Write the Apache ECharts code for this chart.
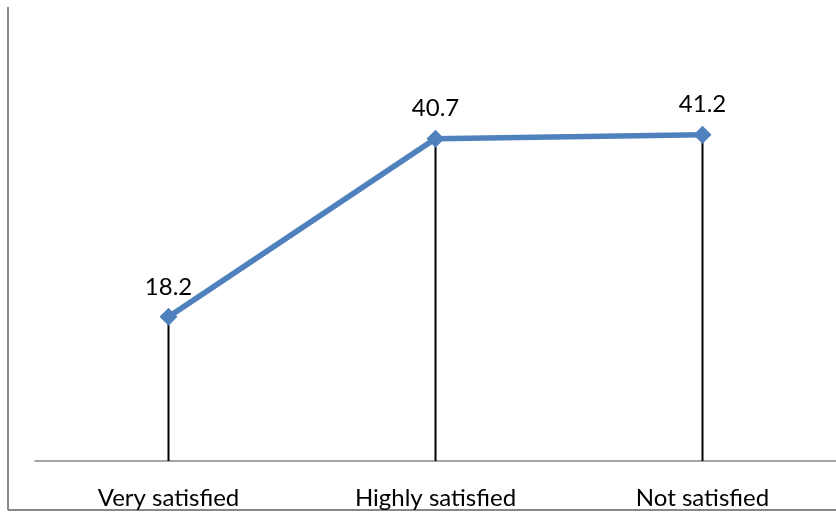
<!DOCTYPE html>
<html><head><meta charset="utf-8">
<script src="https://cdn.jsdelivr.net/npm/echarts@6/dist/echarts.min.js"></script>
<style>html,body{margin:0;padding:0;background:#fff}#c{width:836px;height:512px}</style>
</head><body><div id="c"></div>
<script>
const categories = ['Very satisfied', 'Highly satisfied', 'Not satisfied'];
const values = [18.2, 40.7, 41.2];

const chart = echarts.init(document.getElementById('c'));
chart.setOption({
  animation: false,
  backgroundColor: '#fff',
  grid: { left: 35, top: 65, width: 806, height: 396 },
  xAxis: {
    type: 'category', data: categories, boundaryGap: true,
    axisLine: { lineStyle: { color: '#868686', width: 1.5 } },
    axisTick: { show: false },
    axisLabel: { color: '#000', fontSize: 24, fontFamily: 'Lato', margin: 25 }
  },
  yAxis: { type: 'value', min: 0, max: 50, show: false, splitLine: { show: false } },
  graphic: [
    { type: 'line', shape: { x1: 8, y1: 7, x2: 8, y2: 510 }, style: { stroke: '#888', lineWidth: 2 } },
    { type: 'line', shape: { x1: 8, y1: 510, x2: 836, y2: 510 }, style: { stroke: '#888', lineWidth: 2 } }
  ],
  series: [
    { type: 'bar', data: values, barWidth: 2, itemStyle: { color: '#000' }, z: 1 },
    {
      type: 'line', data: values, z: 3,
      lineStyle: { color: '#4F81BD', width: 5.5 },
      itemStyle: { color: '#4F81BD' },
      symbol: 'diamond', symbolSize: 18,
      label: { show: true, position: 'top', distance: 9, color: '#000', fontSize: 24, fontFamily: 'Lato' }
    }
  ]
});
</script></body></html>
